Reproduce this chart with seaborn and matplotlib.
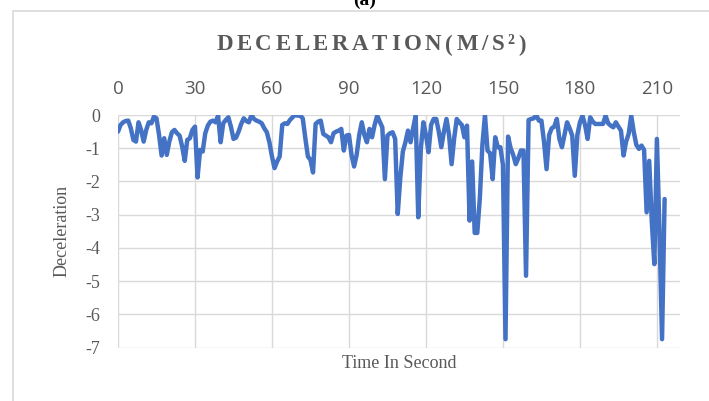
import numpy as np
import pandas as pd
import seaborn as sns
import matplotlib
matplotlib.use("Agg")
import matplotlib.pyplot as plt
from matplotlib.patches import Rectangle

# Deceleration samples, one per second
decel = [
    -0.50, -0.30, -0.22, -0.18, -0.17, -0.40, -0.75, -0.80, -0.22, -0.45,
    -0.80, -0.45, -0.22, -0.25, -0.05, -0.10, -0.60, -1.22, -0.70, -1.20,
    -0.80, -0.52, -0.45, -0.55, -0.62, -0.95, -1.38, -0.75, -0.70, -0.45,
    -0.35, -1.88, -1.05, -1.10, -0.55, -0.32, -0.20, -0.17, -0.22, -0.02,
    -0.82, -0.25, -0.15, -0.07, -0.35, -0.72, -0.68, -0.50, -0.27, -0.10,
    -0.18, -0.22, 0.00, -0.12, -0.17, -0.20, -0.25, -0.40, -0.52, -0.82,
    -1.25, -1.60, -1.40, -1.25, -0.30, -0.25, -0.27, -0.15, -0.07, 0.00,
    -0.02, -0.02, -0.10, -0.70, -1.25, -1.35, -1.73, -0.27, -0.20, -0.17,
    -0.57, -0.62, -0.67, -0.82, -0.55, -0.50, -0.47, -0.42, -1.07, -0.62,
    -0.60, -1.20, -1.55, -1.20, -0.60, -0.22, -0.60, -0.82, -0.42, -0.67,
    -0.30, -0.02, -0.20, -0.37, -1.93, -0.62, -0.55, -0.52, -0.72, -2.98,
    -1.90, -1.10, -0.82, -0.47, -0.82, -0.40, -0.02, -3.08, -1.02, -0.22,
    -0.60, -1.12, -0.30, -0.12, -0.12, -0.50, -0.97, -0.50, -0.12, -0.60,
    -1.48, -0.70, -0.12, -0.22, -0.30, -0.67, -0.32, -3.18, -1.40, -3.55,
    -3.55, -2.50, -0.90, 0.00, -1.07, -1.15, -1.93, -0.67, -0.97, -0.97,
    -1.50, -6.75, -0.65, -1.00, -1.20, -1.48, -1.30, -1.07, -1.07, -4.84,
    -0.15, -0.12, -0.10, 0.00, -0.17, -0.17, -0.80, -1.63, -0.60, -0.40,
    -0.35, -0.12, -0.72, -0.97, -0.60, -0.22, -0.40, -0.62, -1.83, -0.60,
    -0.22, -0.02, -0.30, -0.72, -0.07, -0.20, -0.27, -0.27, -0.27, -0.27,
    -0.02, -0.25, -0.32, -0.37, -0.22, -0.35, -0.47, -1.22, -0.80, -0.57,
    -0.02, -0.52, -0.90, -1.02, -0.92, -1.05, -2.93, -1.38, -3.20, -4.49,
    -0.72, -3.50, -6.75, -2.53,
]
seconds = list(range(len(decel)))

x_ticks = [0, 30, 60, 90, 120, 150, 180, 210]
y_ticks = [0, -1, -2, -3, -4, -5, -6, -7]

df = pd.DataFrame({"Time In Second": seconds, "Deceleration": decel})

sns.set_theme(style="white")
plt.rcParams["font.family"] = ["Liberation Serif", "DejaVu Serif"]
plt.rcParams["axes.unicode_minus"] = False

W, H = 709, 401
fig = plt.figure(figsize=(W / 100, H / 100), dpi=100)
fig.patch.set_facecolor("white")

# outer chart border
fig.patches.append(Rectangle((13 / W, -0.1), 1.2, 1 - 11 / H + 0.1,
                             transform=fig.transFigure, fill=False,
                             edgecolor="#D9D9D9", linewidth=1.2))

ax = fig.add_axes([118 / W, 1 - 347.5 / H, (680 - 118) / W, (347.5 - 115) / H])
sns.lineplot(data=df, x="Time In Second", y="Deceleration", ax=ax,
             color="#4472C4", linewidth=3.2, zorder=3)

ax.set_xlim(0, 219)
ax.set_ylim(-7, 0)
ax.set_xticks(x_ticks)
ax.set_yticks(y_ticks)
ax.grid(True, color="#D9D9D9", linewidth=1.0)
for s in ax.spines.values():
    s.set_visible(False)

ax.xaxis.tick_top()
ax.tick_params(axis="x", length=0, pad=12.5, labelsize=13.5, labelcolor="#595959")
for lab in ax.get_xticklabels():
    lab.set_fontfamily(["Open Sans", "DejaVu Sans"])
ax.tick_params(axis="y", length=0, pad=13, labelsize=13, labelcolor="#595959")

ax.set_xlabel("")
ax.set_ylabel("")
fig.text(399 / W, 1 - 364 / H, "Time In Second", ha="center", va="center",
         fontsize=13, color="#595959")
fig.text(62 / W, 1 - 231 / H, "Deceleration", ha="center", va="center",
         rotation=90, fontsize=13, color="#595959")

# letter-spaced bold title
title = "DECELERATION(M/S²)"
renderer = fig.canvas.get_renderer()
spacing = 3.6
pieces = []
for ch in title:
    t = fig.text(0, 1 - 45 / H, ch, ha="left", va="center", fontsize=16.5,
                 fontweight="bold", color="#595959")
    pieces.append((t, t.get_window_extent(renderer).width))
total = sum(w for _, w in pieces) + spacing * (len(pieces) - 1)
x = 371 - total / 2
for t, w in pieces:
    t.set_x(x / W)
    x += w + spacing

fig.text(365 / W, 1 - 5 / H, "(a)", ha="center", va="baseline", fontsize=14,
         fontweight="bold", color="black")

fig.savefig("out.png", dpi=100)
